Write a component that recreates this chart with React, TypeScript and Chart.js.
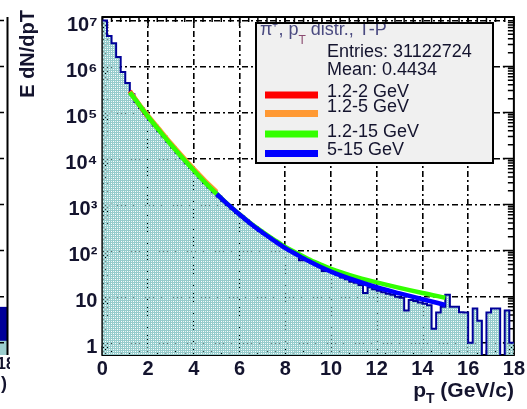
import React, { useEffect, useRef } from "react";
import { Chart, registerables } from "chart.js";

Chart.register(...registerables);

// ---------------- DATA ----------------
const BIN_WIDTH = 0.2; // GeV/c, histogram starts at 0
const histCounts = [
  1.0e7, 4.6e6, 3.2e6, 1.6e6, 7.6e5, 4.4e5, 2.5e5, 1.7e5, 1.25e5, 9.3e4,
  6.9e4, 5.2e4, 3.9e4, 3.0e4, 2.3e4, 1.75e4, 1.33e4, 1.02e4, 7.9e3, 6.2e3,
  4.9e3, 3.8e3, 2.95e3, 2.35e3, 1.85e3, 1.5e3, 1.2e3, 980, 800, 660,
  550, 455, 380, 320, 270, 230, 197, 168, 145, 124,
  108, 94, 82, 62, 68, 59, 52, 46, 36, 37,
  33, 30, 26, 24, 21, 20, 18, 12, 16, 14.5,
  13.5, 12.5, 11.5, 11, 10, 9.5, 5, 8.5, 8, 7.5,
  7, 6.5, 2, 4.5, 6, 11, 6, 6, 4.6, 4.5,
  1, 5.5, 3, 0.4, 4.5, 5.5, 5.5, 0.4, 5, 1,
];

const redPt = [1.2, 1.4, 1.6, 1.8, 2.0];
const redVal = [2.95e5, 2.1e5, 1.5e5, 1.08e5, 7.9e4];

const orangePt = [1.2, 1.5, 2.0, 2.5, 3.0, 3.5, 4.0, 4.5, 5.0];
const orangeVal = [2.85e5, 1.8e5, 8.6e4, 4.3e4, 2.15e4, 1.12e4, 6.0e3, 3.3e3, 1.9e3];

const greenPt = [1.2, 1.5, 2.0, 2.5, 3.0, 3.5, 4.0, 4.5, 5.0, 5.5, 6.0, 6.5, 7.0, 7.5, 8.0, 8.5, 9.0, 9.5, 10, 11, 12, 13, 14, 15];
const greenVal = [2.75e5, 1.74e5, 8.1e4, 4.0e4, 2.0e4, 1.04e4, 5.5e3, 3.0e3, 1.7e3, 1.0e3, 617, 389, 257, 174, 120, 89, 66, 51, 40, 27.5, 20.4, 15.5, 12, 9.5];

const bluePt = [5.0, 5.5, 6.0, 6.5, 7.0, 7.5, 8.0, 8.5, 9.0, 9.5, 10, 11, 12, 13, 14, 15];
const blueVal = [1.7e3, 1.0e3, 610, 380, 248, 166, 113, 82, 60, 45, 35, 23, 16, 11.8, 8.8, 6.6];

const xMin = 0;
const xMax = 18;
const xStep = 2;
const yMin = 0.54;
const yMax = 1.19e7;
const yTickValues = [1, 10, 100, 1e3, 1e4, 1e5, 1e6, 1e7];
const yTickLabels = ["1", "10", "10\u00B2", "10\u00B3", "10\u2074", "10\u2075", "10\u2076", "10\u2077"];

const statsHeader = "\u03C0\u207A, p";
const statsHeaderSub = "T";
const statsHeaderRest = " distr., T-P";
const statsLines = ["Entries: 31122724", "Mean: 0.4434"];
const legendLabels = ["1.2-2 GeV", "1.2-5 GeV", "1.2-15 GeV", "5-15 GeV"];
const legendColors = ["#ff0000", "#ff9933", "#33ff00", "#0000ff"];

const FONT = '"Liberation Sans", Arial, Helvetica, sans-serif';
const TEXT_DARK = "#14142e";

function makePattern(): CanvasPattern | string {
  const c = document.createElement("canvas");
  c.width = 4;
  c.height = 4;
  const g = c.getContext("2d");
  if (!g) return "#9ccfcf";
  g.fillStyle = "#95cccc";
  g.fillRect(0, 0, 4, 4);
  g.fillStyle = "#e4f3f3";
  g.fillRect(1, 3, 1, 1);
  g.fillRect(3, 1, 1, 1);
  g.clearRect(1, 1, 1, 1);
  g.clearRect(3, 3, 1, 1);
  const p = g.createPattern(c, "repeat");
  return p || "#9ccfcf";
}

const framePlugin = {
  id: "rootFrame",
  beforeDatasetsDraw(chart: any) {
    const { ctx, chartArea: a, scales } = chart;
    const xs = scales.x;
    const ys = scales.y;
    ctx.save();
    ctx.strokeStyle = "#000";
    ctx.lineWidth = 1.5;
    ctx.setLineDash([]);
    ctx.beginPath();
    for (let v = xMin; v <= xMax + 1e-9; v += 0.4) {
      const px = xs.getPixelForValue(v);
      const major = Math.abs(v / xStep - Math.round(v / xStep)) < 1e-6;
      const len = major ? 9 : 5;
      ctx.moveTo(px, a.bottom);
      ctx.lineTo(px, a.bottom - len);
      ctx.moveTo(px, a.top);
      ctx.lineTo(px, a.top + len);
    }
    for (let d = 0; d <= 7; d++) {
      for (let m = 1; m <= 9; m++) {
        const v = m * Math.pow(10, d - 1);
        if (v < yMin || v > yMax) continue;
        const py = ys.getPixelForValue(v);
        const len = m === 1 ? 11 : 6;
        ctx.moveTo(a.left, py);
        ctx.lineTo(a.left + len, py);
        ctx.moveTo(a.right, py);
        ctx.lineTo(a.right - len, py);
      }
    }
    ctx.stroke();
    ctx.lineWidth = 2;
    ctx.strokeRect(a.left, a.top, a.right - a.left, a.bottom - a.top);
    ctx.restore();
  },
  afterDraw(chart: any) {
    const { ctx, chartArea: a, scales } = chart;
    const ys = scales.y;
    ctx.save();

    // ---- neighbouring panel fragment at the far left ----
    ctx.save();
    ctx.beginPath();
    ctx.rect(0, 0, 10, 409);
    ctx.clip();
    ctx.fillStyle = "#9ccfcf";
    ctx.fillRect(0, ys.getPixelForValue(1.4), 8, a.bottom - ys.getPixelForValue(1.4));
    ctx.fillStyle = "#000099";
    ctx.fillRect(0, ys.getPixelForValue(6), 7, ys.getPixelForValue(1.1) - ys.getPixelForValue(6));
    ctx.strokeStyle = "#000";
    ctx.lineWidth = 2;
    ctx.beginPath();
    ctx.moveTo(7.5, a.top);
    ctx.lineTo(7.5, a.bottom);
    ctx.stroke();
    ctx.setLineDash([4, 3, 1, 3]);
    ctx.lineWidth = 1.5;
    ctx.beginPath();
    for (const v of yTickValues) {
      const py = ys.getPixelForValue(v);
      ctx.moveTo(0, py);
      ctx.lineTo(7, py);
    }
    ctx.stroke();
    ctx.setLineDash([]);
    ctx.fillStyle = TEXT_DARK;
    ctx.font = `bold 16px ${FONT}`;
    ctx.textAlign = "center";
    ctx.textBaseline = "alphabetic";
    ctx.fillText("18", 6, 369);
    ctx.font = `bold 18px ${FONT}`;
    ctx.textAlign = "right";
    ctx.fillText(")", 7, 389);
    ctx.restore();

    // ---- y axis title ----
    ctx.save();
    ctx.translate(34, 10);
    ctx.rotate(-Math.PI / 2);
    ctx.font = `bold 20px ${FONT}`;
    ctx.fillStyle = TEXT_DARK;
    ctx.textAlign = "right";
    ctx.textBaseline = "alphabetic";
    ctx.fillText("E dN/dpT", 0, 0);
    ctx.restore();

    // ---- x axis title ----
    ctx.save();
    ctx.fillStyle = TEXT_DARK;
    ctx.textBaseline = "alphabetic";
    ctx.textAlign = "left";
    const big = `bold 21px ${FONT}`;
    const small = `bold 14px ${FONT}`;
    ctx.font = big;
    const wP = ctx.measureText("p").width;
    const wRest = ctx.measureText(" (GeV/c)").width;
    ctx.font = small;
    const wT = ctx.measureText("T").width;
    const right = a.right;
    const x0 = right - (wP + wT + wRest);
    const base = 397;
    ctx.font = big;
    ctx.fillText("p", x0, base);
    ctx.font = small;
    ctx.fillText("T", x0 + wP, base + 6);
    ctx.font = big;
    ctx.fillText(" (GeV/c)", x0 + wP + wT, base);
    ctx.restore();

    // ---- stats / legend box ----
    const bx = 256, by = 23, bw = 237, bh = 140;
    ctx.fillStyle = "#f0f0f0";
    ctx.fillRect(bx, by, bw, bh);
    ctx.save();
    ctx.beginPath();
    ctx.rect(bx + 1, by + 1, bw - 2, bh - 2);
    ctx.clip();
    ctx.fillStyle = "#4a4a80";
    ctx.textAlign = "left";
    ctx.textBaseline = "alphabetic";
    ctx.font = `18px ${FONT}`;
    let hx = 260;
    ctx.fillText(statsHeader, hx, 35);
    hx += ctx.measureText(statsHeader).width;
    ctx.font = `12px ${FONT}`;
    ctx.fillStyle = "#8a4a70";
    ctx.fillText(statsHeaderSub, hx, 44);
    hx += ctx.measureText(statsHeaderSub).width;
    ctx.font = `18px ${FONT}`;
    ctx.fillStyle = "#4a4a80";
    ctx.fillText(statsHeaderRest, hx, 35);

    ctx.fillStyle = TEXT_DARK;
    ctx.fillText(statsLines[0], 327, 57);
    ctx.fillText(statsLines[1], 327, 75);
    const labelBase = [97, 112, 137, 155];
    const lineY = [95, 113.5, 134, 153.5];
    for (let i = 0; i < legendLabels.length; i++) {
      ctx.fillStyle = legendColors[i];
      ctx.fillRect(265, lineY[i] - 3.5, 53, 7);
      ctx.fillStyle = TEXT_DARK;
      ctx.fillText(legendLabels[i], 327, labelBase[i]);
    }
    ctx.restore();
    ctx.strokeStyle = "#000";
    ctx.lineWidth = 2;
    ctx.strokeRect(bx, by, bw, bh);
    ctx.restore();
  },
};

export default function App() {
  const canvasRef = useRef<HTMLCanvasElement | null>(null);

  useEffect(() => {
    const canvas = canvasRef.current;
    if (!canvas) return;

    const histData = histCounts.map((v, i) => ({ x: i * BIN_WIDTH, y: v }));
    histData.push({ x: histCounts.length * BIN_WIDTH, y: histCounts[histCounts.length - 1] });

    const fit = (pts: number[], vals: number[], color: string, order: number) => ({
      type: "line" as const,
      data: pts.map((x, i) => ({ x, y: vals[i] })),
      borderColor: color,
      backgroundColor: color,
      borderWidth: 4.5,
      pointRadius: 0,
      fill: false,
      cubicInterpolationMode: "monotone" as const,
      order,
    });

    const chart = new Chart(canvas, {
      type: "line",
      data: {
        datasets: [
          {
            data: histData,
            borderColor: "#000099",
            borderWidth: 2,
            backgroundColor: makePattern() as any,
            fill: "start",
            stepped: true,
            pointRadius: 0,
            order: 10,
          },
          fit(redPt, redVal, legendColors[0], 4),
          fit(orangePt, orangeVal, legendColors[1], 3),
          fit(greenPt, greenVal, legendColors[2], 2),
          fit(bluePt, blueVal, legendColors[3], 1),
        ] as any,
      },
      options: {
        animation: false,
        responsive: false,
        devicePixelRatio: 1,
        layout: { padding: { top: 12, right: 11.5, left: 0, bottom: 0 } },
        plugins: {
          legend: { display: false },
          tooltip: { enabled: false },
        },
        scales: {
          x: {
            type: "linear",
            min: xMin,
            max: xMax,
            afterFit: (s: any) => {
              s.height = 54;
            },
            ticks: {
              stepSize: xStep,
              color: TEXT_DARK,
              font: { family: FONT, size: 20, weight: "bold" },
              padding: 2,
              maxRotation: 0,
            },
            grid: {
              drawTicks: false,
              lineWidth: 1.6,
              color: (c: any) =>
                c.tick && (c.tick.value === xMin || c.tick.value === xMax) ? "rgba(0,0,0,0)" : "#000",
            },
            border: { display: false, dash: [6, 3, 2, 3] },
          },
          y: {
            type: "logarithmic",
            min: yMin,
            max: yMax,
            afterFit: (s: any) => {
              s.width = 102.4;
            },
            afterBuildTicks: (s: any) => {
              s.ticks = yTickValues.map((v) => ({ value: v }));
            },
            ticks: {
              color: TEXT_DARK,
              font: { family: FONT, size: 20, weight: "bold" },
              padding: 5,
              labelOffset: 5,
              callback: (_v: any, i: number) => yTickLabels[i],
            },
            grid: {
              drawTicks: false,
              lineWidth: 1.6,
              color: "#000",
            },
            border: { display: false, dash: [6, 3, 2, 3] },
          },
        },
      } as any,
      plugins: [framePlugin],
    });

    return () => chart.destroy();
  }, []);

  return (
    <div style={{ position: "absolute", left: 0, top: 0, width: 527, height: 409, background: "#fff" }}>
      <canvas ref={canvasRef} width={527} height={409} style={{ width: 527, height: 409, display: "block" }} />
    </div>
  );
}
